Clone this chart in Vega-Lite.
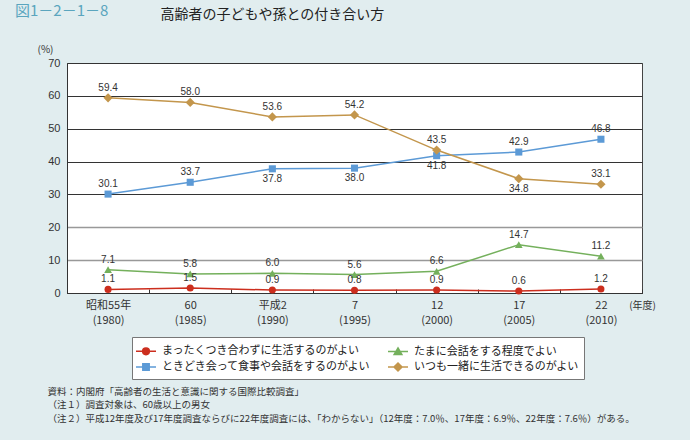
{
  "$schema": "https://vega.github.io/schema/vega-lite/v6.json",
  "width": 575,
  "height": 230,
  "autosize": {"type": "none"},
  "padding": {"left": 67, "top": 63, "right": 48, "bottom": 147},
  "background": "#e1edef",
  "config": {
    "view": {"fill": "white", "stroke": "#444", "strokeWidth": 1},
    "font": "Noto Sans CJK JP"
  },
  "title": {
    "text": "図1－2－1－8",
    "anchor": "start",
    "frame": "group",
    "dx": -52,
    "offset": -12,
    "font": "Noto Sans CJK JP",
    "fontSize": 15,
    "fontWeight": "normal",
    "color": "#5aa5be"
  },
  "data": {
    "values": [
      {"year": "昭和55年|(1980)", "series": "まったくつき合わずに生活するのがよい", "value": 1.1},
      {"year": "60|(1985)", "series": "まったくつき合わずに生活するのがよい", "value": 1.5},
      {"year": "平成2|(1990)", "series": "まったくつき合わずに生活するのがよい", "value": 0.9},
      {"year": "7|(1995)", "series": "まったくつき合わずに生活するのがよい", "value": 0.8},
      {"year": "12|(2000)", "series": "まったくつき合わずに生活するのがよい", "value": 0.9},
      {"year": "17|(2005)", "series": "まったくつき合わずに生活するのがよい", "value": 0.6},
      {"year": "22|(2010)", "series": "まったくつき合わずに生活するのがよい", "value": 1.2},
      {"year": "昭和55年|(1980)", "series": "たまに会話をする程度でよい", "value": 7.1},
      {"year": "60|(1985)", "series": "たまに会話をする程度でよい", "value": 5.8},
      {"year": "平成2|(1990)", "series": "たまに会話をする程度でよい", "value": 6.0},
      {"year": "7|(1995)", "series": "たまに会話をする程度でよい", "value": 5.6},
      {"year": "12|(2000)", "series": "たまに会話をする程度でよい", "value": 6.6},
      {"year": "17|(2005)", "series": "たまに会話をする程度でよい", "value": 14.7},
      {"year": "22|(2010)", "series": "たまに会話をする程度でよい", "value": 11.2},
      {"year": "昭和55年|(1980)", "series": "ときどき会って食事や会話をするのがよい", "value": 30.1},
      {"year": "60|(1985)", "series": "ときどき会って食事や会話をするのがよい", "value": 33.7},
      {"year": "平成2|(1990)", "series": "ときどき会って食事や会話をするのがよい", "value": 37.8},
      {"year": "7|(1995)", "series": "ときどき会って食事や会話をするのがよい", "value": 38.0},
      {"year": "12|(2000)", "series": "ときどき会って食事や会話をするのがよい", "value": 41.8},
      {"year": "17|(2005)", "series": "ときどき会って食事や会話をするのがよい", "value": 42.9},
      {"year": "22|(2010)", "series": "ときどき会って食事や会話をするのがよい", "value": 46.8},
      {"year": "昭和55年|(1980)", "series": "いつも一緒に生活できるのがよい", "value": 59.4},
      {"year": "60|(1985)", "series": "いつも一緒に生活できるのがよい", "value": 58.0},
      {"year": "平成2|(1990)", "series": "いつも一緒に生活できるのがよい", "value": 53.6},
      {"year": "7|(1995)", "series": "いつも一緒に生活できるのがよい", "value": 54.2},
      {"year": "12|(2000)", "series": "いつも一緒に生活できるのがよい", "value": 43.5},
      {"year": "17|(2005)", "series": "いつも一緒に生活できるのがよい", "value": 34.8},
      {"year": "22|(2010)", "series": "いつも一緒に生活できるのがよい", "value": 33.1}
    ]
  },
  "encoding": {
    "x": {
      "field": "year",
      "type": "ordinal",
      "sort": null,
      "scale": {"type": "band", "paddingInner": 0, "paddingOuter": 0},
      "axis": null
    },
    "y": {
      "field": "value",
      "type": "quantitative",
      "scale": {"domain": [0, 70]},
      "axis": null
    },
    "color": {
      "field": "series",
      "type": "nominal",
      "scale": {
        "domain": ["まったくつき合わずに生活するのがよい", "たまに会話をする程度でよい", "ときどき会って食事や会話をするのがよい", "いつも一緒に生活できるのがよい"],
        "range": ["#cc2e1e", "#74b05c", "#5c9ad6", "#c3964c"]
      },
      "legend": {
        "title": null,
        "orient": "none",
        "legendX": 65,
        "legendY": 274,
        "direction": "horizontal",
        "columns": 2,
        "columnPadding": 14,
        "rowPadding": 0,
        "padding": 5,
        "fillColor": "white",
        "strokeColor": "#777777",
        "labelFont": "Noto Sans CJK JP",
        "labelFontSize": 11,
        "labelColor": "#222222",
        "labelLimit": 300,
        "labelOffset": 7,
        "symbolSize": 256,
        "symbolStrokeWidth": 1.5,
        "symbolOpacity": 1,
        "encode": {
          "symbols": {
            "update": {
              "shape": {"signal": "datum.value === 'まったくつき合わずに生活するのがよい' ? 'M-1.25,0L1.25,0M-0.42,0A0.42,0.42 0 1,0 0.42,0A0.42,0.42 0 1,0 -0.42,0Z' : datum.value === 'たまに会話をする程度でよい' ? 'M-1.25,0L1.25,0M0,-0.45L0.48,0.35L-0.48,0.35Z' : datum.value === 'ときどき会って食事や会話をするのがよい' ? 'M-1.25,0L1.25,0M-0.4,-0.4L0.4,-0.4L0.4,0.4L-0.4,0.4Z' : 'M-1.25,0L1.25,0M0,-0.5L0.5,0L0,0.5L-0.5,0Z'"},
              "stroke": {"signal": "scale('color', datum.value)"},
              "fill": {"signal": "scale('color', datum.value)"},
              "strokeWidth": {"value": 1.5},
              "opacity": {"value": 1}
            }
          }
        }
      }
    }
  },
  "layer": [
    {
      "mark": {"type": "line", "strokeWidth": 1.5},
      "encoding": {
        "x": {
          "field": "year",
          "type": "ordinal",
          "sort": null,
          "axis": {
            "orient": "bottom",
            "labelExpr": "split(datum.label, '|')",
            "labelAngle": 0,
            "labelFont": "Noto Sans CJK JP",
            "labelFontSize": 11,
            "labelColor": "#333333",
            "labelLineHeight": 15,
            "labelBaseline": "top",
            "labelPadding": 10,
            "tickBand": "extent",
            "tickSize": -4,
            "tickColor": "#333333",
            "domainColor": "#333333",
            "grid": false,
            "title": [
              "資料：内閣府「高齢者の生活と意識に関する国際比較調査」",
              "（注１）調査対象は、60歳以上の男女",
              "（注２）平成12年度及び17年度調査ならびに22年度調査には、「わからない」（12年度：7.0％、17年度：6.9％、22年度：7.6％）がある。"
            ],
            "titleFont": "Noto Sans CJK JP",
            "titleFontSize": 9.5,
            "titleFontWeight": "normal",
            "titleColor": "#333333",
            "titleLineHeight": 13.5,
            "titleAlign": "left",
            "titleBaseline": "top",
            "titleX": -20,
            "titleY": 93
          }
        },
        "y": {
          "field": "value",
          "type": "quantitative",
          "axis": {
            "orient": "left",
            "values": [0, 10, 20, 30, 40, 50, 60, 70],
            "labelFont": "Liberation Sans",
            "labelFontSize": 11,
            "labelColor": "#333333",
            "labelPadding": 7,
            "ticks": false,
            "domainColor": "#333333",
            "grid": true,
            "gridColor": {"condition": {"test": "datum.value === 10 || datum.value === 20", "value": "#999999"}, "value": "#333333"},
            "gridWidth": {"condition": {"test": "datum.value === 10 || datum.value === 20", "value": 1.5}, "value": 1},
            "title": "(%)",
            "titleFont": "Noto Sans CJK JP",
            "titleFontSize": 10,
            "titleFontWeight": "normal",
            "titleColor": "#333333",
            "titleAngle": 0,
            "titleAlign": "center",
            "titleBaseline": "middle",
            "titleX": -22,
            "titleY": -14
          }
        }
      }
    },
    {
      "transform": [{"filter": "datum.series === 'まったくつき合わずに生活するのがよい'"}],
      "mark": {"type": "point", "shape": "circle", "filled": true, "opacity": 1, "size": 50},
      "encoding": {
        "x": {
          "field": "year",
          "type": "ordinal",
          "sort": null,
          "axis": {
            "orient": "top",
            "labels": false,
            "ticks": false,
            "domain": false,
            "grid": false,
            "title": "高齢者の子どもや孫との付き合い方",
            "titleFont": "Noto Sans CJK JP",
            "titleFontSize": 14,
            "titleFontWeight": "normal",
            "titleColor": "#222222",
            "titleAngle": 0,
            "titleAlign": "left",
            "titleBaseline": "middle",
            "titleX": 93,
            "titleY": -49
          }
        },
        "y": {
          "field": "value",
          "type": "quantitative",
          "axis": {
            "orient": "right",
            "labels": false,
            "ticks": false,
            "domain": false,
            "grid": false,
            "title": "(年度)",
            "titleFont": "Noto Sans CJK JP",
            "titleFontSize": 10,
            "titleFontWeight": "normal",
            "titleColor": "#333333",
            "titleAngle": 0,
            "titleAlign": "center",
            "titleBaseline": "middle",
            "titleX": 0,
            "titleY": 242
          }
        }
      }
    },
    {
      "transform": [{"filter": "datum.series === 'たまに会話をする程度でよい'"}],
      "mark": {"type": "point", "shape": "triangle-up", "filled": true, "opacity": 1, "size": 60}
    },
    {
      "transform": [{"filter": "datum.series === 'ときどき会って食事や会話をするのがよい'"}],
      "mark": {"type": "point", "shape": "square", "filled": true, "opacity": 1, "size": 50}
    },
    {
      "transform": [{"filter": "datum.series === 'いつも一緒に生活できるのがよい'"}],
      "mark": {"type": "point", "shape": "diamond", "filled": true, "opacity": 1, "size": 85}
    },
    {
      "transform": [
        {"filter": "!((datum.series === 'ときどき会って食事や会話をするのがよい' && indexof(['平成2|(1990)', '7|(1995)', '12|(2000)'], datum.year) >= 0) || (datum.series === 'いつも一緒に生活できるのがよい' && datum.year === '17|(2005)'))"}
      ],
      "mark": {"type": "text", "font": "Liberation Sans", "fontSize": 10, "dy": -10, "baseline": "middle"},
      "encoding": {
        "color": {"value": "#333333"},
        "text": {"field": "value", "type": "quantitative", "format": ".1f"}
      }
    },
    {
      "transform": [
        {"filter": "(datum.series === 'ときどき会って食事や会話をするのがよい' && indexof(['平成2|(1990)', '7|(1995)', '12|(2000)'], datum.year) >= 0) || (datum.series === 'いつも一緒に生活できるのがよい' && datum.year === '17|(2005)')"}
      ],
      "mark": {"type": "text", "font": "Liberation Sans", "fontSize": 10, "dy": 10, "baseline": "middle"},
      "encoding": {
        "color": {"value": "#333333"},
        "text": {"field": "value", "type": "quantitative", "format": ".1f"}
      }
    }
  ],
  "resolve": {"axis": {"x": "independent", "y": "independent"}}
}
